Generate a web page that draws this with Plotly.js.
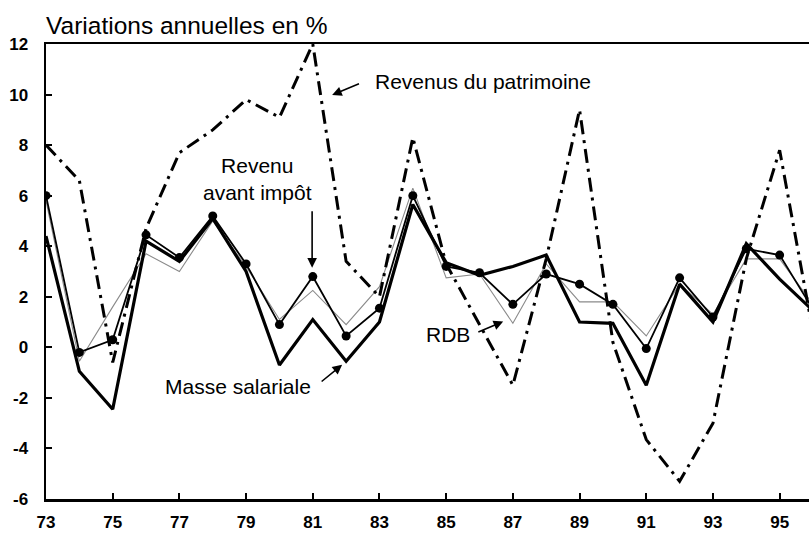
<!DOCTYPE html>
<html>
<head>
<meta charset="utf-8">
<script src="https://cdn.plot.ly/plotly-3.0.1.min.js"></script>
<style>html,body{margin:0;padding:0;background:#fff;}#chart{width:809px;height:534px;}</style>
</head>
<body>
<div id="chart"></div>
<script>
const years = [73,74,75,76,77,78,79,80,81,82,83,84,85,86,87,88,89,90,91,92,93,94,95,96];
const masseSalariale = [4.4,-0.95,-2.45,4.2,3.4,5.1,3.0,-0.7,1.1,-0.55,1.0,5.65,3.35,2.85,3.2,3.65,1.0,0.95,-1.5,2.5,1.0,4.1,2.7,1.45];
const revenuAvantImpot = [6.0,-0.2,0.3,4.45,3.55,5.2,3.3,0.9,2.8,0.45,1.55,6.0,3.2,2.95,1.7,2.9,2.5,1.7,-0.05,2.75,1.2,3.9,3.65,1.5];
const rdb = [5.8,-0.55,1.6,3.7,3.0,5.0,3.2,1.1,2.25,0.9,2.4,6.3,2.75,2.9,0.95,3.3,1.8,1.8,0.45,2.5,1.3,3.5,3.5,1.7];
const revenusPatrimoine = [8.0,6.6,-0.6,4.7,7.7,8.6,9.8,9.1,12.0,3.4,2.0,8.3,3.3,0.9,-1.5,3.5,9.4,0.2,-3.65,-5.3,-3.0,3.5,7.8,0.6];
const xTickVals = [73,75,77,79,81,83,85,87,89,91,93,95];
const xTickText = ['73','75','77','79','81','83','85','87','89','91','93','95'];
const yTickVals = [-6,-4,-2,0,2,4,6,8,10,12];
const yTickText = ['-6','-4','-2','0','2','4','6','8','10','12'];

const FONT = 'Liberation Sans, Arial, Helvetica, sans-serif';

const traces = [
  {x: years, y: rdb, type:'scatter', mode:'lines', line:{color:'#8a8a8a', width:1.1}, name:'RDB'},
  {x: years, y: revenusPatrimoine, type:'scatter', mode:'lines', line:{color:'#000', width:3, dash:'14px,6px,3px,6px'}, name:'Revenus du patrimoine'},
  {x: years, y: revenuAvantImpot, type:'scatter', mode:'lines+markers', line:{color:'#000', width:1.8}, marker:{color:'#000', size:9, symbol:'circle'}, name:'Revenu avant impôt'},
  {x: years, y: masseSalariale, type:'scatter', mode:'lines', line:{color:'#000', width:3.2}, name:'Masse salariale'}
];

const txtFont = {family: FONT, size: 21, color:'#000'};
const arrowCommon = {text:'', showarrow:true, arrowhead:2, arrowsize:1.2, arrowwidth:1.6, arrowcolor:'#000', xref:'x', yref:'y', axref:'x', ayref:'y'};

const layout = {
  width: 809, height: 534,
  margin: {l:46, r:0, t:44, b:35, pad:0},
  paper_bgcolor:'#fff', plot_bgcolor:'#fff',
  showlegend:false,
  title: {text:'Variations annuelles en %', xref:'container', x:46/809, xanchor:'left', yref:'container', y:1-25/534, yanchor:'middle', font:{family:FONT, size:24.5, color:'#000'}},
  xaxis: {range:[73,95.88], tickmode:'array', tickvals:xTickVals, ticktext:xTickText, ticks:'inside', ticklen:6, tickwidth:2, tickcolor:'#000',
          showline:true, linewidth:2.5, linecolor:'#000', mirror:true, showgrid:false, zeroline:false,
          tickfont:{family:FONT, size:17, weight:'bold', color:'#000'}, ticklabelstandoff:6},
  yaxis: {range:[-6,12], tickmode:'array', tickvals:yTickVals, ticktext:yTickText, ticks:'inside', ticklen:6, tickwidth:2, tickcolor:'#000',
          showline:true, linewidth:2.5, linecolor:'#000', mirror:true, showgrid:false, zeroline:false,
          tickfont:{family:FONT, size:17, weight:'bold', color:'#000'}, ticklabelstandoff:12},
  annotations: [
    {text:'Revenus du patrimoine', x:82.81, y:10.51, xref:'x', yref:'y', xanchor:'left', yanchor:'middle', showarrow:false, font:txtFont},
    {text:'Revenu<br>avant impôt', x:79.34, y:6.66, xref:'x', yref:'y', xanchor:'center', yanchor:'middle', align:'center', showarrow:false, font:txtFont},
    {text:'RDB', x:85.05, y:0.5, xref:'x', yref:'y', xanchor:'center', yanchor:'middle', showarrow:false, font:txtFont},
    {text:'Masse salariale', x:76.5, y:-1.55, xref:'x', yref:'y', xanchor:'left', yanchor:'middle', showarrow:false, font:txtFont},
    Object.assign({x:81.58, y:9.98, ax:82.43, ay:10.45}, arrowCommon),
    Object.assign({x:80.98, y:3.15, ax:80.98, ay:5.44}, arrowCommon),
    Object.assign({x:86.71, y:1.02, ax:85.92, ay:0.58}, arrowCommon),
    Object.assign({x:81.88, y:-0.69, ax:81.22, ay:-1.4}, arrowCommon)
  ]
};

Plotly.newPlot('chart', traces, layout, {staticPlot:true, displayModeBar:false});
</script>
</body>
</html>
